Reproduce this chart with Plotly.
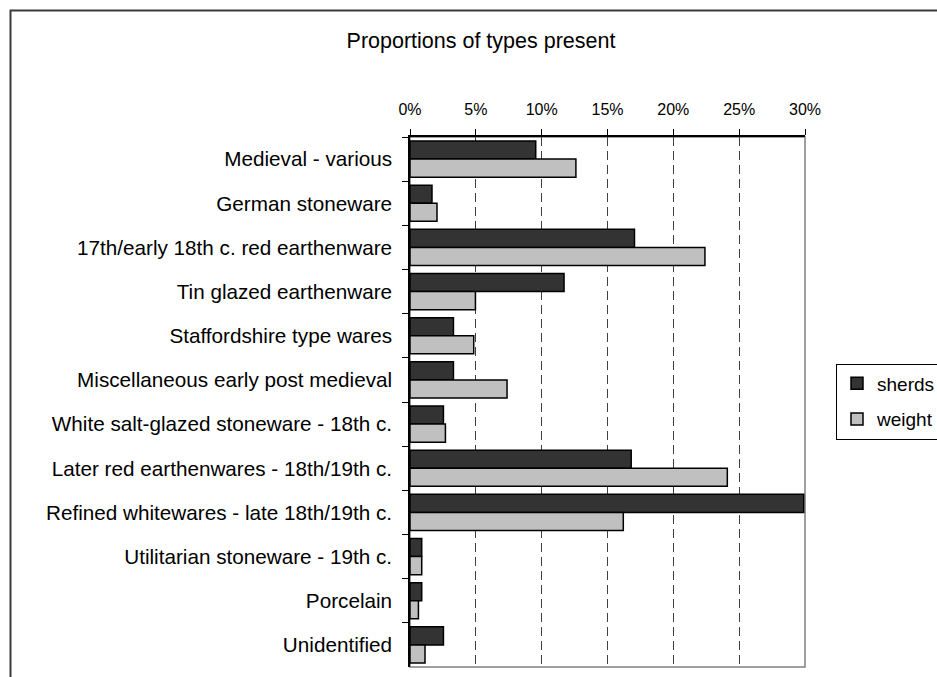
import plotly.graph_objects as go

# Pottery types (top to bottom) and their share of the assemblage, in percent
categories = [
    "Medieval - various",
    "German stoneware",
    "17th/early 18th c. red earthenware",
    "Tin glazed earthenware",
    "Staffordshire type wares",
    "Miscellaneous early post medieval",
    "White salt-glazed stoneware - 18th c.",
    "Later red earthenwares - 18th/19th c.",
    "Refined whitewares - late 18th/19th c.",
    "Utilitarian stoneware - 19th c.",
    "Porcelain",
    "Unidentified",
]
sherds = [9.55, 1.67, 17.05, 11.7, 3.3, 3.3, 2.54, 16.8, 29.9, 0.89, 0.89, 2.54]
weight = [12.6, 2.05, 22.4, 4.97, 4.84, 7.37, 2.69, 24.1, 16.2, 0.89, 0.64, 1.14]
tick_values = [0, 5, 10, 15, 20, 25, 30]
tick_labels = ["0%", "5%", "10%", "15%", "20%", "25%", "30%"]

W, H = 937, 677
ML, MR, MT, MB = 410, 132, 137, 10
pw, ph = W - ML - MR, H - MT - MB

FONT = "Liberation Sans, Arial, sans-serif"

fig = go.Figure()
fig.add_trace(go.Bar(
    y=categories, x=sherds, name="sherds", orientation="h",
    marker=dict(color="#333333", line=dict(color="#000000", width=1.5)),
    legendgroup="a",
))
fig.add_trace(go.Bar(
    y=categories, x=weight, name="weight", orientation="h",
    marker=dict(color="#c0c0c0", line=dict(color="#000000", width=1.5)),
    legendgroup="b",
))


def px_x(p):
    return (p - ML) / pw


def px_y(p):
    return (H - MB - p) / ph


shapes = [
    # outer chart frame (left and top edges visible, the rest runs off the page)
    dict(type="rect", xref="paper", yref="paper",
         x0=px_x(10.5), x1=px_x(1200), y0=px_y(900), y1=px_y(10.5),
         line=dict(color="#3a3a3a", width=2), fillcolor="rgba(0,0,0,0)", layer="below"),
    # plot-area frame on right and bottom
    dict(type="rect", xref="paper", yref="paper", x0=0, x1=1, y0=0, y1=1,
         line=dict(color="#808080", width=1.5), fillcolor="rgba(0,0,0,0)", layer="below"),
]

fig.update_layout(
    width=W, height=H,
    margin=dict(l=ML, r=MR, t=MT, b=MB, pad=0, autoexpand=False),
    paper_bgcolor="white", plot_bgcolor="white",
    font=dict(family=FONT, color="#000000"),
    barmode="group", bargap=0.18, bargroupgap=0,
    title=dict(text="Proportions of types present", x=481 / W, xref="container",
               xanchor="center", y=1 - 40 / H, yref="container", yanchor="middle",
               font=dict(size=21.5, family=FONT, color="#000000")),
    xaxis=dict(
        side="top", range=[0, 30], tickmode="array",
        tickvals=tick_values, ticktext=tick_labels,
        showgrid=True, gridcolor="#404040", gridwidth=1, griddash="9px,5px",
        showline=True, linecolor="#000000", linewidth=1.5,
        ticks="outside", ticklen=6, tickcolor="#000000", tickwidth=1,
        tickfont=dict(size=16, family=FONT, color="#000000"),
        ticklabelstandoff=8, zeroline=False, fixedrange=True,
    ),
    yaxis=dict(
        range=[len(categories) - 0.5, -0.5],
        showline=True, linecolor="#000000", linewidth=1.5,
        ticks="outside", ticklen=6, tickcolor="#000000", tickson="boundaries",
        tickfont=dict(size=20.7, family=FONT, color="#000000"),
        ticklabelstandoff=12, showgrid=False, fixedrange=True,
    ),
    legend=dict(
        x=836 / W, xanchor="left", y=1 - 401.5 / H, yanchor="middle",
        xref="container", yref="container",
        bordercolor="#000000", borderwidth=1, bgcolor="white",
        font=dict(size=19, family=FONT, color="#000000"),
        traceorder="grouped", tracegroupgap=8, itemwidth=30,
    ),
    shapes=shapes,
)

fig.write_html("out.html")
